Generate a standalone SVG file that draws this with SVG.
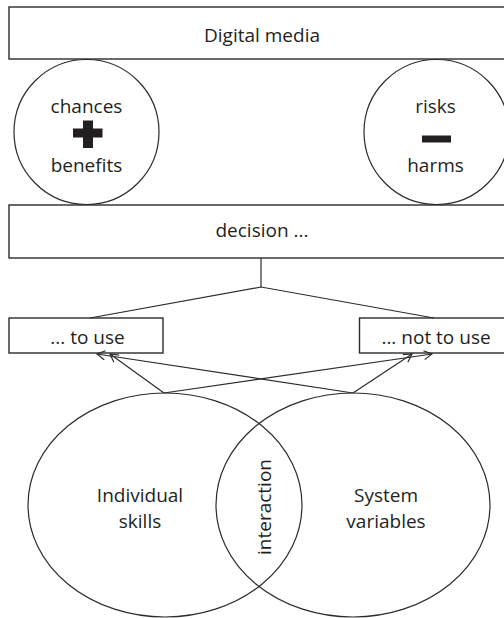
<svg xmlns="http://www.w3.org/2000/svg" width="504" height="618" viewBox="0 0 504 618">
<style>
  .box { fill: #fff; stroke: #2b2b2b; stroke-width: 1.4; }
  .circ { fill: #fff; stroke: #2b2b2b; stroke-width: 1.2; }
  .venn { fill: none; stroke: #2b2b2b; stroke-width: 1.2; }
  .lbl { font-family: "Open Sans", "Noto Sans", "Liberation Sans", sans-serif; font-size: 19px; fill: #231f20; text-anchor: middle; }
  .ln { fill: none; stroke: #2b2b2b; stroke-width: 1.2; }
  .sym { fill: #231f20; }
</style>
<defs>
  <marker id="arr" markerUnits="userSpaceOnUse" markerWidth="12" markerHeight="12" refX="0" refY="0" viewBox="-10 -6 12 12" orient="auto">
    <path d="M-8,-4.5 L0,0 L-8,4.5" fill="none" stroke="#2b2b2b" stroke-width="1.2"/>
  </marker>
</defs>
<rect width="504" height="618" fill="#fff"/>

<g id="digital-media">
  <rect class="box" x="9" y="7" width="500" height="52"/>
  <text class="lbl" x="262" y="42">Digital media</text>
</g>

<g id="chances">
  <circle class="circ" cx="86.5" cy="132" r="72.5"/>
  <text class="lbl" x="86.5" y="113">chances</text>
  <rect class="sym" x="73" y="128.5" width="29.5" height="9"/>
  <rect class="sym" x="83" y="120.5" width="10" height="27.5"/>
  <text class="lbl" x="86.5" y="172">benefits</text>
</g>

<g id="risks">
  <circle class="circ" cx="436.5" cy="132" r="72.5"/>
  <text class="lbl" x="435.5" y="113">risks</text>
  <rect class="sym" x="422" y="135.5" width="29" height="7"/>
  <text class="lbl" x="435.5" y="172">harms</text>
</g>

<g id="decision">
  <rect class="box" x="9" y="205" width="500" height="53"/>
  <text class="lbl" x="262" y="237">decision ...</text>
</g>

<g id="to-use">
  <rect class="box" x="9" y="318" width="154" height="35"/>
  <text class="lbl" x="87.5" y="344">... to use</text>
</g>

<g id="not-to-use">
  <rect class="box" x="359.5" y="318" width="150" height="35"/>
  <text class="lbl" x="436" y="344">... not to use</text>
</g>

<g id="individual-skills">
  <ellipse class="venn" cx="165" cy="505" rx="137" ry="112"/>
  <text class="lbl" x="140" y="502">Individual</text>
  <text class="lbl" x="140" y="528">skills</text>
</g>

<g id="system-variables">
  <ellipse class="venn" cx="353" cy="505" rx="137" ry="112"/>
  <text class="lbl" x="386" y="502">System</text>
  <text class="lbl" x="386" y="528">variables</text>
</g>

<g id="interaction">
  <text class="lbl" transform="translate(270.5,507) rotate(-90)" x="0" y="0">interaction</text>
</g>

<g id="connectors">
  <polyline class="ln" points="261,258 261,287"/>
  <polyline class="ln" points="90,318 261,287 434,318"/>
  <line class="ln" x1="164" y1="393" x2="110" y2="354" marker-end="url(#arr)"/>
  <line class="ln" x1="353" y1="393" x2="97" y2="354" marker-end="url(#arr)"/>
  <line class="ln" x1="164" y1="393" x2="432" y2="354" marker-end="url(#arr)"/>
  <line class="ln" x1="353" y1="393" x2="412" y2="354" marker-end="url(#arr)"/>
</g>
</svg>
